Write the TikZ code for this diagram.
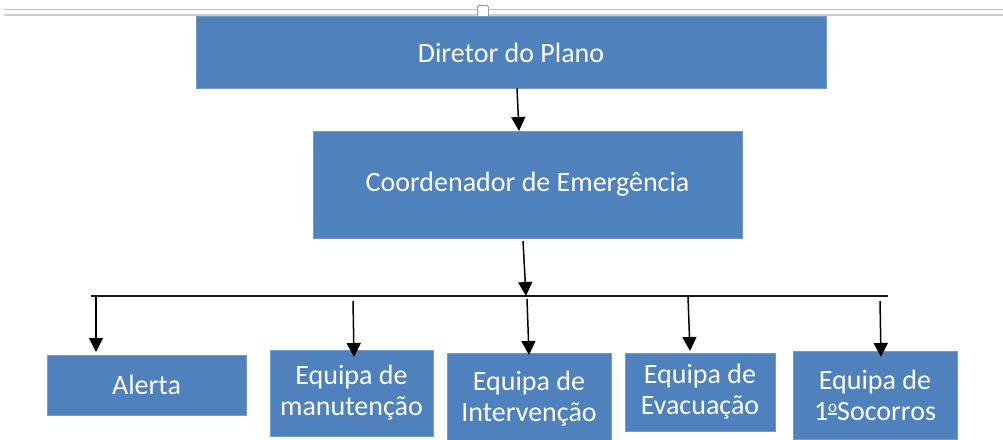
\documentclass[tikz,border=0pt]{standalone}
\usepackage{fontspec}
\setmainfont{Carlito}
\usetikzlibrary{arrows.meta,calc}
\definecolor{boxblue}{HTML}{4F81BD}
\definecolor{rulegray}{HTML}{C0C0C0}
\newcommand{\myordo}{\raisebox{8pt}{\fontsize{17}{17}\selectfont\setbox0\hbox{o}\vtop{\hbox{o}\kern1.2pt\hrule width\wd0 height 1.4pt}}}
\begin{document}
\begin{tikzpicture}[x=1pt,y=-1pt,
  box/.style={anchor=north west,fill=boxblue,draw=boxblue!80!white,line width=0.6pt,inner sep=0pt,outer sep=0pt,
    text=white,align=center,font=\fontsize{28}{31}\selectfont},
  arr/.style={line width=1.5pt,draw=black,-{Triangle[width=14pt,length=14pt]}},
  busline/.style={line width=1.8pt,draw=black!90}]
\useasboundingbox[fill=white] (0,0) rectangle (1003,439);
% top rules
\draw[rulegray,line width=1.8pt] (4,9.5) -- (1003,9.5);
\draw[rulegray!80,line width=1.6pt] (4,15) -- (1003,15);
\node[draw=rulegray!80!black,fill=white,rounded corners=1.5pt,line width=0.8pt,minimum width=11pt,minimum height=13pt,inner sep=0pt,anchor=north west] (handle) at (477,5) {};
% boxes
\node[box,minimum width=630pt,minimum height=72pt] (dir) at (196,16.5) {Diretor do Plano};
\node[box,minimum width=429pt,minimum height=107pt] (coord) at (313,131) {Coordenador de Emergência};
\node[box,minimum width=199pt,minimum height=60pt] (alerta) at (47,355) {Alerta};
\node[box,minimum width=163pt,minimum height=86pt] (manut) at (270,350) {Equipa de\\manutenção};
\node[box,minimum width=164pt,minimum height=92pt] (interv) at (447,353) {Equipa de\\Intervenção};
\node[box,minimum width=150pt,minimum height=78pt] (evac) at (625,353) {Equipa de\\Evacuação};
\node[box,minimum width=164pt,minimum height=88pt] (socor) at (793,351) {Equipa de\\1\myordo Socorros};
% bus
\coordinate (busL) at (91,296);
\coordinate (busR) at (888,296);
\coordinate (busC) at (526,296);
\draw[busline] (busL) -- (busR);
% arrows
\draw[arr] ($(dir.south west)+(321,0)$) -- ($(coord.north west)+(206,0)$);
\draw[arr] ($(coord.south west)+(210,3)$) -- (busC);
\coordinate (sA) at (96,297);
\coordinate (sM) at (353,301);
\coordinate (sI) at (527,299);
\coordinate (sE) at (688,297);
\coordinate (sS) at (880,301);
\draw[arr] (sA) -- ($(alerta.north west)+(49,-3)$);
\draw[arr] (sM) -- ($(manut.north west)+(84,7)$);
\draw[arr] (sI) -- ($(interv.north west)+(82,2)$);
\draw[arr] (sE) -- ($(evac.north west)+(65,-2)$);
\draw[arr] (sS) -- ($(socor.north west)+(88,6)$);
\end{tikzpicture}
\end{document}
